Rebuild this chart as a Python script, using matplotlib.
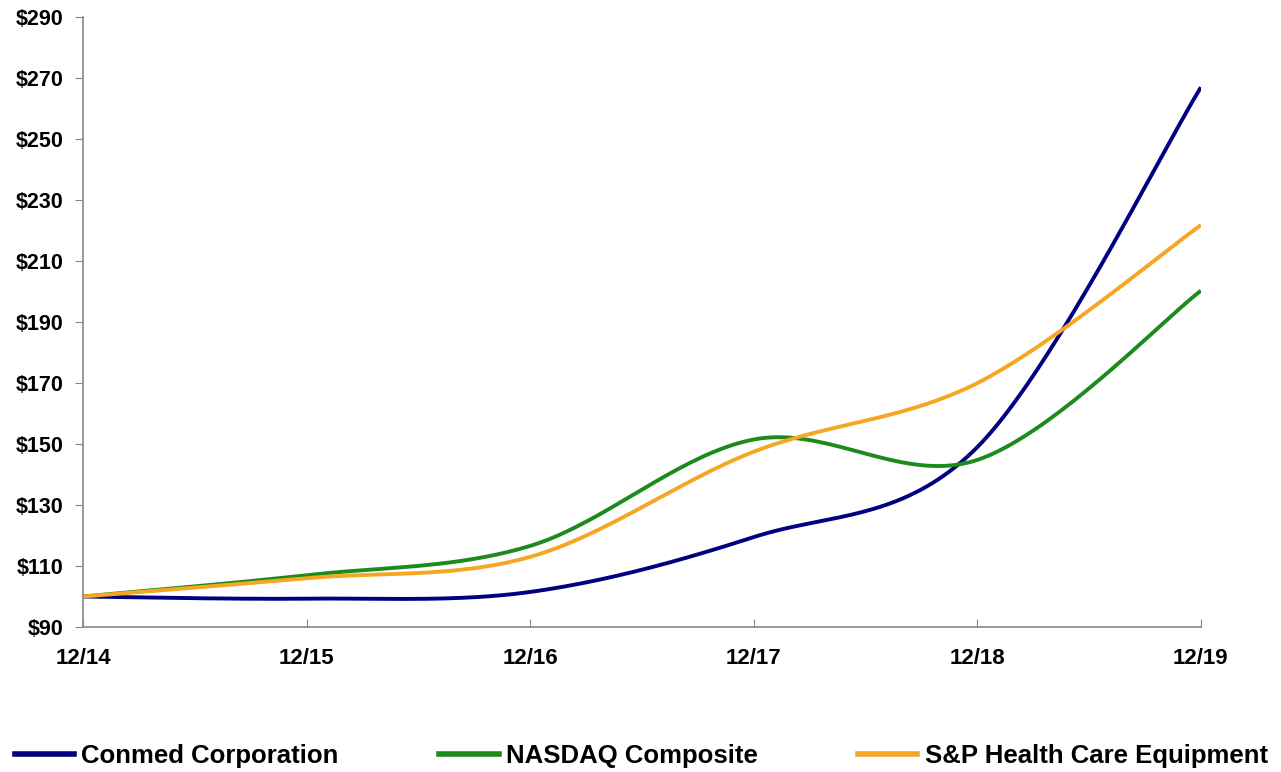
import numpy as np
import matplotlib.pyplot as plt
from matplotlib.lines import Line2D

years = ["12/14", "12/15", "12/16", "12/17", "12/18", "12/19"]
conmed = [100, 99.3, 101.5, 119.5, 149, 267]
nasdaq = [100, 107, 116.6, 151.5, 144.8, 200.3]
sp_hce = [100, 106, 113, 147.5, 170, 221.8]

yticks = list(range(90, 291, 20))


def smooth(y, n=40, t=0.5):
    # cardinal spline through the points, like a spreadsheet "smoothed line"
    y = np.asarray(y, dtype=float)
    x = np.arange(len(y), dtype=float)
    px = np.concatenate([[x[0]], x, [x[-1]]])
    py = np.concatenate([[y[0]], y, [y[-1]]])
    xs, ys = [], []
    for i in range(1, len(px) - 2):
        p0, p1, p2, p3 = (np.array([px[j], py[j]]) for j in range(i - 1, i + 3))
        m1 = t * (p2 - p0)
        m2 = t * (p3 - p1)
        s = np.linspace(0, 1, n)[:, None]
        h00 = 2 * s**3 - 3 * s**2 + 1
        h10 = s**3 - 2 * s**2 + s
        h01 = -2 * s**3 + 3 * s**2
        h11 = s**3 - s**2
        pts = h00 * p1 + h10 * m1 + h01 * p2 + h11 * m2
        xs.extend(pts[:, 0])
        ys.extend(pts[:, 1])
    return np.array(xs), np.array(ys)


plt.rcParams['font.family'] = ['Liberation Sans', 'DejaVu Sans']
fig = plt.figure(figsize=(12.81, 7.72), dpi=100)
ax = fig.add_axes([0.0648, 0.1878, 0.8727, 0.790])

series = [(conmed, "#000080", "Conmed Corporation"),
          (nasdaq, "#1c8a1c", "NASDAQ Composite"),
          (sp_hce, "#f5a623", "S&P Health Care Equipment")]
handles = []
for vals, col, name in series:
    sx, sy = smooth(vals)
    ax.plot(sx, sy, color=col, lw=2.8, solid_capstyle='butt')
    handles.append(Line2D([0], [0], color=col, lw=4, label=name))

ax.set_xlim(0, len(years) - 1)
ax.set_ylim(90, 290)
ax.set_xticks(range(len(years)))
ax.set_xticklabels(years, fontsize=16, fontweight='bold')
ax.set_yticks(yticks)
ax.set_yticklabels(["$%d" % v for v in yticks], fontsize=15.5, fontweight='bold')
ax.tick_params(axis='x', direction='in', length=6, color='#888888', pad=15)
ax.tick_params(axis='y', direction='out', length=6, color='#888888', pad=8)
for s in ['top', 'right']:
    ax.spines[s].set_visible(False)
for s in ['left', 'bottom']:
    ax.spines[s].set_color('#888888')
    ax.spines[s].set_linewidth(1.2)

fig.legend(handles=handles, loc='lower left', ncol=3, mode='expand',
           bbox_to_anchor=(0.0117, 0.005, 0.978, 0.03), frameon=False,
           borderpad=0, borderaxespad=0,
           handlelength=2.3, handletextpad=0.28,
           prop={'weight': 'bold', 'size': 18.5})

fig.savefig("out.png", dpi=100)
